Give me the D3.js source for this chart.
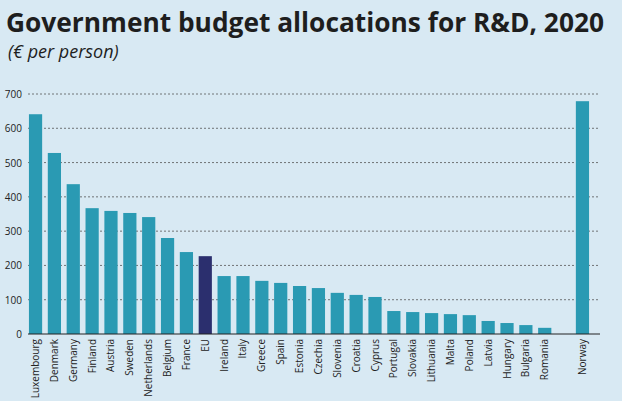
<!DOCTYPE html>
<html><head><meta charset="utf-8">
<script src="https://cdn.jsdelivr.net/npm/d3@7"></script>
<style>body{margin:0;background:#d8e9f3}svg{display:block}</style>
</head><body>
<script>
const categories=["Luxembourg","Denmark","Germany","Finland","Austria","Sweden","Netherlands","Belgium","France","EU","Ireland","Italy","Greece","Spain","Estonia","Czechia","Slovenia","Croatia","Cyprus","Portugal","Slovakia","Lithuania","Malta","Poland","Latvia","Hungary","Bulgaria","Romania","","Norway"];
const values=[641,528,437,367,359,353,341,280,239,227,169,169,155,149,140,134,120,114,108,67,64,61,58,55,38,32,26,18,null,679];
const ticks=[0,100,200,300,400,500,600,700];
const W=622,H=401,m={l:28,r:22,t:94,b:67};
const svg=d3.select("body").append("svg").attr("width",W).attr("height",H);
svg.append("rect").attr("width",W).attr("height",H).attr("fill","#d8e9f3");
svg.append("text").attr("x",6).attr("y",32).attr("font-family","Open Sans").attr("font-weight","bold").attr("font-size",26).attr("textLength",598).attr("lengthAdjust","spacingAndGlyphs").attr("fill","#1e1e1e").text("Government budget allocations for R&D, 2020");
svg.append("text").attr("x",8).attr("y",58).attr("font-family","Open Sans").attr("font-style","italic").attr("font-size",18).attr("fill","#1e1e1e").text("(€ per person)");
const x=d3.scaleBand().domain(categories.map((c,i)=>i)).range([m.l,W-m.r-10]).paddingInner(0.3).paddingOuter(0.05);
const y=d3.scaleLinear().domain([0,700]).range([H-m.b,m.t]);
const g=svg.append("g");
g.selectAll(".grid").data(ticks.slice(1)).join("line").attr("x1",m.l).attr("x2",W-m.r).attr("y1",d=>y(d)).attr("y2",d=>y(d)).attr("stroke","#555").attr("stroke-width",0.8).attr("stroke-dasharray","2,2");
g.selectAll(".yt").data(ticks).join("text").attr("x",22).attr("y",d=>y(d)+4).attr("text-anchor","end").attr("font-family","Open Sans").attr("font-size",10).attr("fill","#222").text(d=>d);
g.selectAll(".bar").data(values.map((v,i)=>({v,i})).filter(d=>d.v!=null)).join("rect")
 .attr("x",d=>x(d.i)).attr("width",x.bandwidth()).attr("y",d=>y(d.v)).attr("height",d=>y(0)-y(d.v))
 .attr("fill",d=>categories[d.i]==="EU"?"#2b2f6e":"#2a9ab3");
g.append("line").attr("x1",m.l).attr("x2",W-m.r).attr("y1",y(0)).attr("y2",y(0)).attr("stroke","#222");
g.selectAll(".xl").data(categories.map((c,i)=>({c,i}))).join("text")
 .attr("transform",d=>`translate(${x(d.i)+x.bandwidth()/2+3.5},${y(0)+5}) rotate(-90)`)
 .attr("text-anchor","end").attr("font-family","Open Sans").attr("font-size",10).attr("fill","#222").text(d=>d.c);
</script></body></html>
